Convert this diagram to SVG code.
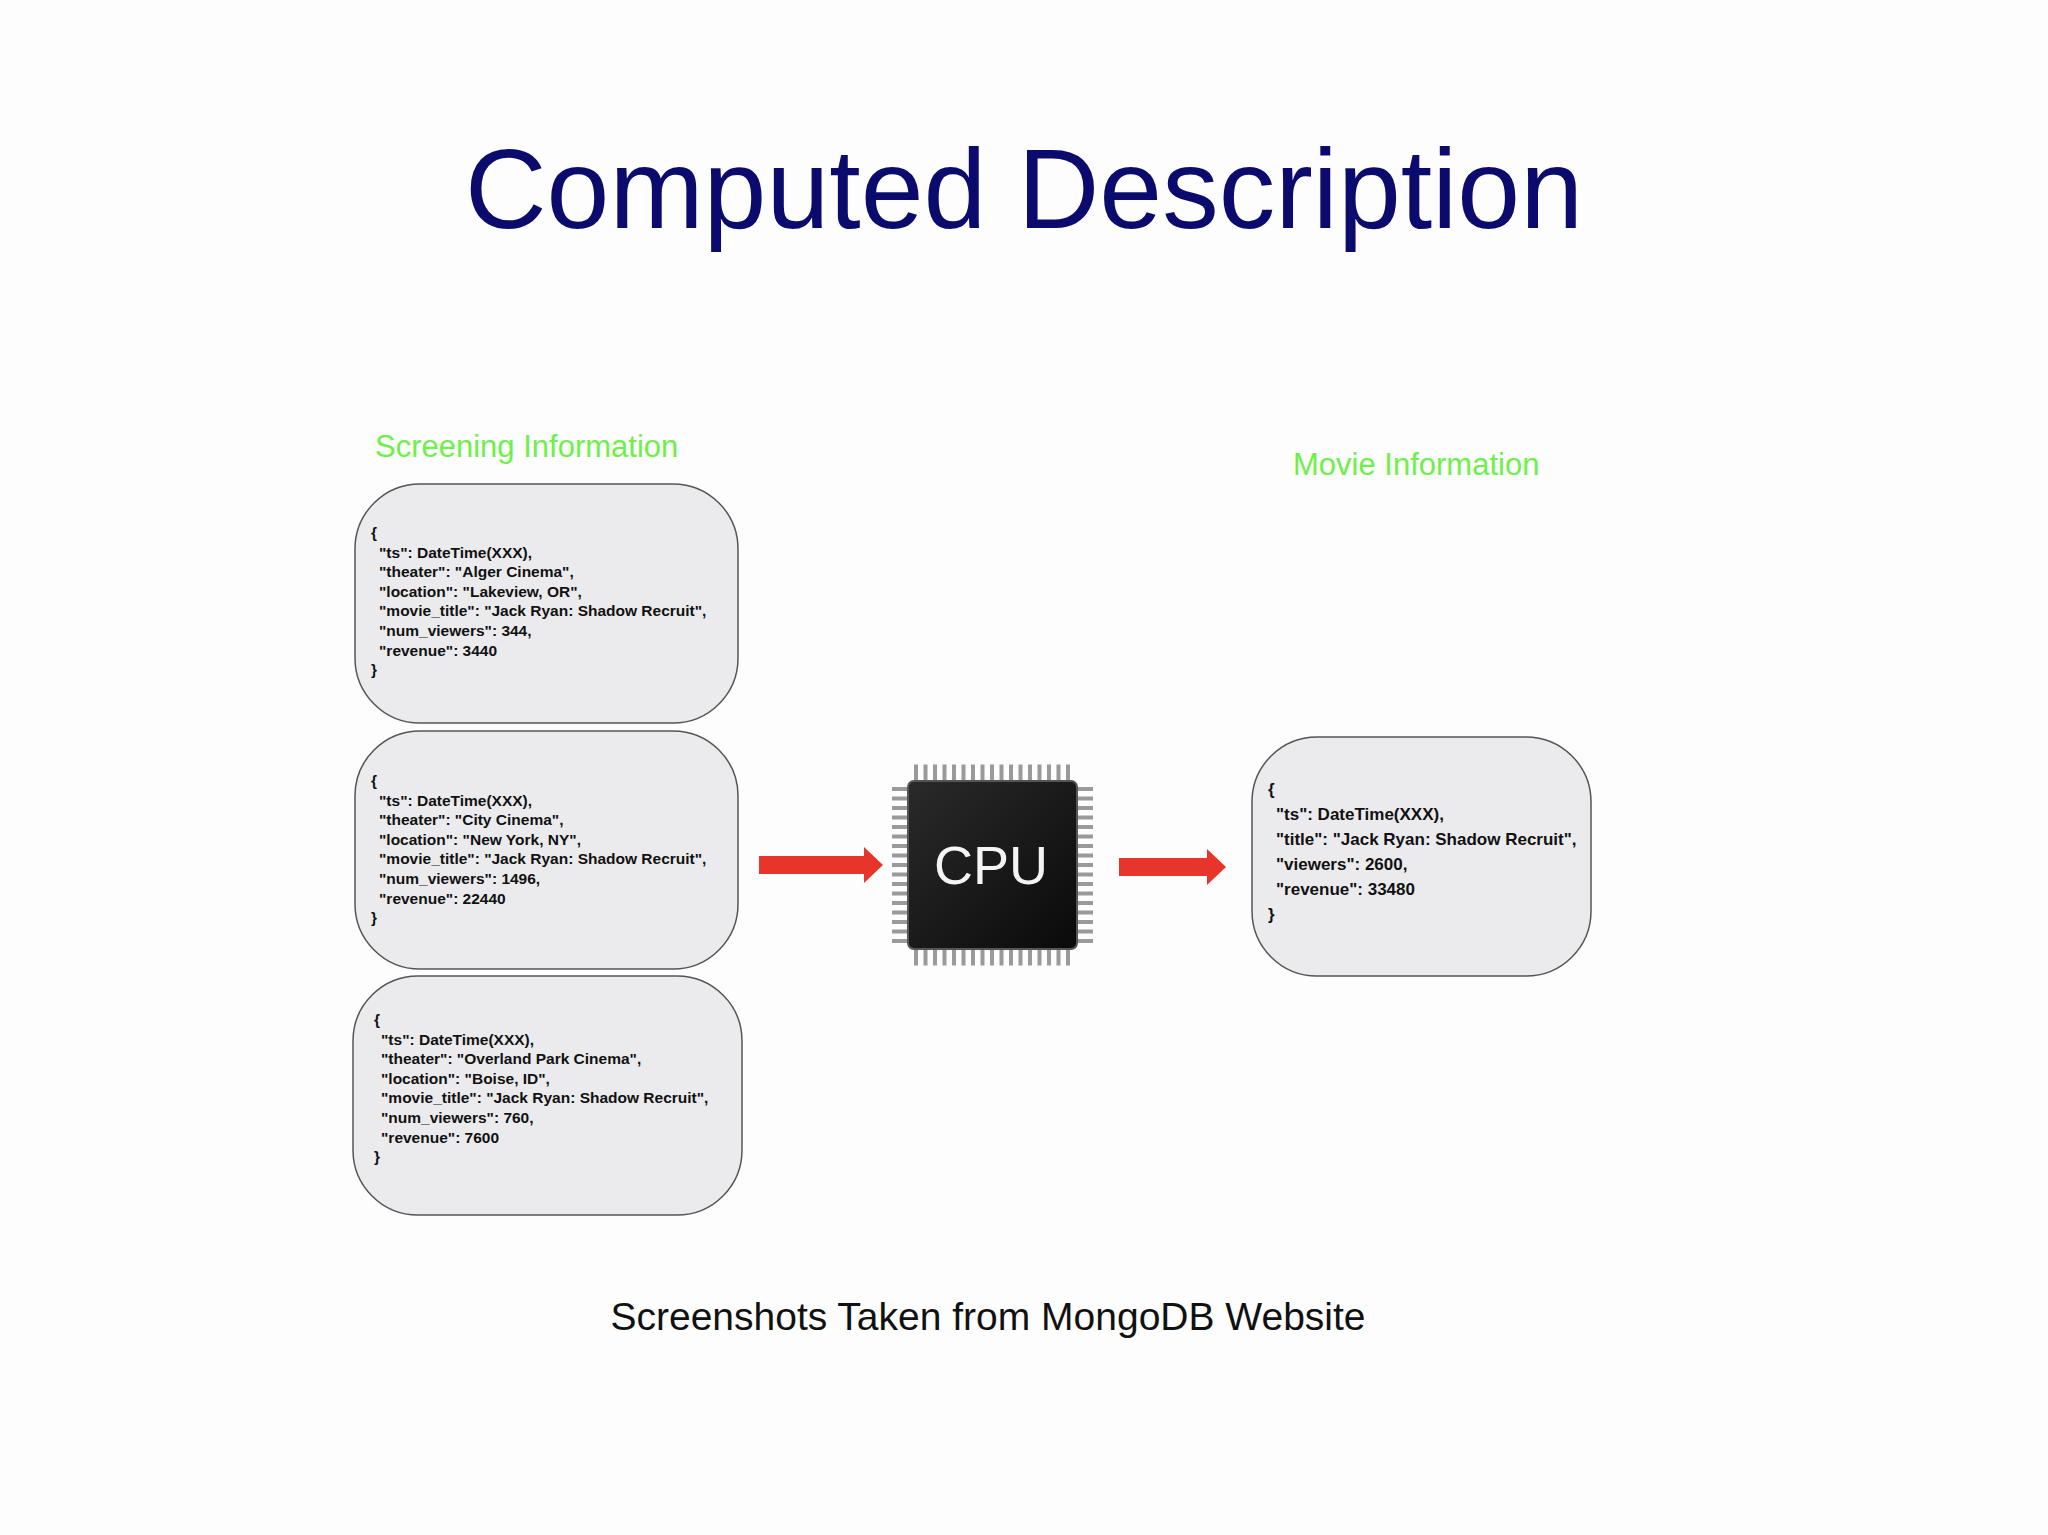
<svg xmlns="http://www.w3.org/2000/svg" width="2048" height="1535" viewBox="0 0 2048 1535">
<style>
.box{fill:#ebebed;stroke:#555;stroke-width:1.5}
.j{font-family:"Liberation Sans",Arial,sans-serif;font-weight:bold;font-size:15.5px;fill:#111}
.jr{font-family:"Liberation Sans",Arial,sans-serif;font-weight:bold;font-size:17px;fill:#111}
.lbl{font-family:"Liberation Sans",Arial,sans-serif;font-size:31px;fill:#6ef04a}
.pin{stroke:#9a9a9a;stroke-dasharray:4 5.5}
</style>
<defs>
<linearGradient id="chip" x1="0" y1="0" x2="1" y2="1"><stop offset="0" stop-color="#2a2a2a"/><stop offset="1" stop-color="#0a0a0a"/></linearGradient>
</defs>
<rect width="2048" height="1535" fill="#fdfdfd"/>
<text x="1024" y="228" text-anchor="middle" font-family="Liberation Sans,Arial,sans-serif" font-size="113" fill="#0b0b6e">Computed Description</text>
<text class="lbl" x="375" y="457">Screening Information</text>
<text class="lbl" x="1293" y="475">Movie Information</text>
<g id="screen1">
<rect class="box" x="355" y="484" width="383" height="239" rx="65"/>
<text class="j" x="371" y="538">{</text>
<text class="j" x="379" y="558">"ts": DateTime(XXX),</text>
<text class="j" x="379" y="577">"theater": "Alger Cinema",</text>
<text class="j" x="379" y="597">"location": "Lakeview, OR",</text>
<text class="j" x="379" y="616">"movie_title": "Jack Ryan: Shadow Recruit",</text>
<text class="j" x="379" y="636">"num_viewers": 344,</text>
<text class="j" x="379" y="656">"revenue": 3440</text>
<text class="j" x="371" y="675">}</text>
</g>
<g id="screen2">
<rect class="box" x="355" y="731" width="383" height="238" rx="65"/>
<text class="j" x="371" y="786">{</text>
<text class="j" x="379" y="806">"ts": DateTime(XXX),</text>
<text class="j" x="379" y="825">"theater": "City Cinema",</text>
<text class="j" x="379" y="845">"location": "New York, NY",</text>
<text class="j" x="379" y="864">"movie_title": "Jack Ryan: Shadow Recruit",</text>
<text class="j" x="379" y="884">"num_viewers": 1496,</text>
<text class="j" x="379" y="904">"revenue": 22440</text>
<text class="j" x="371" y="923">}</text>
</g>
<g id="screen3">
<rect class="box" x="353" y="976" width="389" height="239" rx="65"/>
<text class="j" x="374" y="1025">{</text>
<text class="j" x="381" y="1045">"ts": DateTime(XXX),</text>
<text class="j" x="381" y="1064">"theater": "Overland Park Cinema",</text>
<text class="j" x="381" y="1084">"location": "Boise, ID",</text>
<text class="j" x="381" y="1103">"movie_title": "Jack Ryan: Shadow Recruit",</text>
<text class="j" x="381" y="1123">"num_viewers": 760,</text>
<text class="j" x="381" y="1143">"revenue": 7600</text>
<text class="j" x="374" y="1162">}</text>
</g>
<g id="cpu">
<line class="pin" x1="914" y1="773" x2="1072" y2="773" stroke-width="17"/>
<line class="pin" x1="914" y1="957" x2="1072" y2="957" stroke-width="17"/>
<line class="pin" x1="900" y1="787" x2="900" y2="944" stroke-width="16"/>
<line class="pin" x1="1085" y1="787" x2="1085" y2="944" stroke-width="16"/>
<rect x="908" y="781" width="169" height="168" rx="6" fill="url(#chip)" stroke="#555" stroke-width="2"/>
<text x="991" y="884" text-anchor="middle" font-family="Liberation Sans,Arial,sans-serif" font-size="54" fill="#f4f4f4">CPU</text>
</g>
<g id="movie">
<rect class="box" x="1252" y="737" width="339" height="239" rx="65"/>
<text class="jr" x="1268" y="795">{</text>
<text class="jr" x="1276" y="820">"ts": DateTime(XXX),</text>
<text class="jr" x="1276" y="845">"title": "Jack Ryan: Shadow Recruit",</text>
<text class="jr" x="1276" y="870">"viewers": 2600,</text>
<text class="jr" x="1276" y="895">"revenue": 33480</text>
<text class="jr" x="1268" y="920">}</text>
</g>
<g id="connectors" fill="#e8352b">
<polygon points="759,856 864,856 864,847 883,865 864,883 864,874 759,874"/>
<polygon points="1119,858 1207,858 1207,849 1226,867 1207,885 1207,876 1119,876"/>
</g>
<text x="988" y="1330" text-anchor="middle" font-family="Liberation Sans,Arial,sans-serif" font-size="39" fill="#111">Screenshots Taken from MongoDB Website</text>
</svg>
